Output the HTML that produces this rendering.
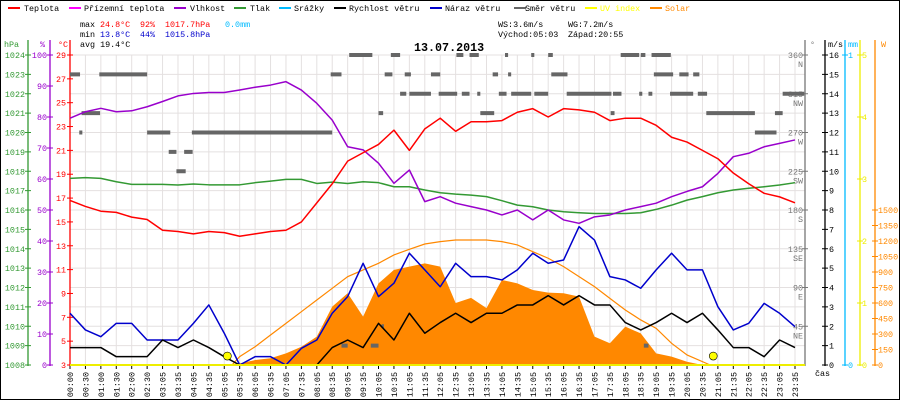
<!DOCTYPE html>
<html><head><meta charset="utf-8">
<style>
html,body{margin:0;padding:0;background:#fff;}
svg{display:block;font-family:"Liberation Mono",monospace;}
</style></head>
<body>
<svg id="chart" width="900" height="400" viewBox="0 0 900 400" xmlns="http://www.w3.org/2000/svg">
<rect x="0.5" y="0.5" width="899" height="399" fill="#fff" stroke="#000"/>
<g id="grid"></g>
<g id="legend" font-size="8.4">
 <g><rect x="8" y="7" width="12" height="2" fill="#f00"/><text x="24" y="11" fill="#000">Teplota</text></g>
 <g><rect x="69" y="7" width="12" height="2" fill="#f0f"/><text x="84" y="11" fill="#000">Přízemní teplota</text></g>
 <g><rect x="174" y="7" width="12" height="2" fill="#90c"/><text x="190" y="11" fill="#000">Vlhkost</text></g>
 <g><rect x="234" y="7" width="12" height="2" fill="#393"/><text x="250" y="11" fill="#000">Tlak</text></g>
 <g><rect x="279" y="7" width="12" height="2" fill="#0bf"/><text x="294" y="11" fill="#000">Srážky</text></g>
 <g><rect x="334" y="7" width="12" height="2" fill="#000"/><text x="349" y="11" fill="#000">Rychlost větru</text></g>
 <g><rect x="430" y="7" width="12" height="2" fill="#00c"/><text x="445" y="11" fill="#000">Náraz větru</text></g>
 <g><rect x="514" y="7" width="12" height="2" fill="#666"/><text x="525" y="11" fill="#000">Směr větru</text></g>
 <g><rect x="585" y="7" width="12" height="2" fill="#ff0"/><text x="600" y="11" fill="#ff0">UV index</text></g>
 <g><rect x="650" y="7" width="12" height="2" fill="#f80"/><text x="665" y="11" fill="#f80">Solar</text></g>
</g>
<g id="stats" font-size="8.4">
 <text x="80" y="27" fill="#000">max</text>
 <text x="100" y="27" fill="#f00">24.8°C</text>
 <text x="140" y="27" fill="#f00">92%</text>
 <text x="165" y="27" fill="#f00">1017.7hPa</text>
 <text x="225" y="27" fill="#0bf">0.0mm</text>
 <text x="80" y="37" fill="#000">min</text>
 <text x="100" y="37" fill="#00c">13.8°C</text>
 <text x="140" y="37" fill="#00c">44%</text>
 <text x="165" y="37" fill="#00c">1015.8hPa</text>
 <text x="80" y="47" fill="#000">avg 19.4°C</text>
 <text x="498" y="27" fill="#000">WS:3.6m/s</text>
 <text x="568" y="27" fill="#000">WG:7.2m/s</text>
 <text x="498" y="37" fill="#000">Východ:05:03</text>
 <text x="568" y="37" fill="#000">Západ:20:55</text>
</g>
<text x="414" y="51" font-size="11.7" font-weight="bold" fill="#000">13.07.2013</text>
<g id="axes"></g>
<g id="series"></g>
</svg>
<script>
const timeLabels = ["00:00","00:30","01:00","01:30","02:00","02:30","03:05","03:35","04:05","04:35","05:05","05:35","06:05","06:35","07:05","07:35","08:05","08:35","09:05","09:35","10:05","10:35","11:05","11:35","12:05","12:35","13:05","13:35","14:05","14:35","15:05","15:35","16:05","16:35","17:05","17:35","18:05","18:35","19:05","19:35","20:05","20:35","21:05","21:35","22:05","22:35","23:05","23:35"];
const temperature = [16.8,16.3,15.9,15.8,15.4,15.2,14.3,14.2,14.0,14.2,14.1,13.8,14.0,14.2,14.3,15.0,16.6,18.2,20.1,20.8,21.5,22.7,21.0,22.8,23.7,22.6,23.4,23.4,23.5,24.2,24.5,23.8,24.5,24.4,24.2,23.5,23.7,23.7,23.1,22.1,21.7,21.0,20.3,19.1,18.2,17.4,17.1,16.6];
const humidity = [79.6,81.7,82.8,81.7,82.0,83.3,85.0,86.8,87.6,87.9,87.9,88.7,89.6,90.3,91.4,88.7,84.4,79.0,70.4,69.4,65.1,58.6,62.9,52.7,54.3,52.2,51.1,50.0,48.4,50.0,46.8,50.0,46.8,45.7,47.8,48.4,50.0,51.1,52.2,54.3,56.0,57.5,61.8,67.2,68.3,70.4,71.5,72.6];
const pressure = [1017.63,1017.67,1017.63,1017.46,1017.32,1017.32,1017.32,1017.29,1017.34,1017.30,1017.30,1017.30,1017.41,1017.49,1017.58,1017.58,1017.37,1017.44,1017.37,1017.46,1017.41,1017.20,1017.20,1017.03,1016.89,1016.82,1016.77,1016.69,1016.48,1016.25,1016.17,1016.00,1015.91,1015.86,1015.82,1015.82,1015.82,1015.86,1016.03,1016.25,1016.51,1016.69,1016.89,1017.03,1017.12,1017.20,1017.29,1017.41];
const windSpeed = [0.9,0.9,0.9,0.43,0.43,0.43,1.29,0.9,1.29,0.9,0.43,0,0,0,0,0,0,0.9,1.29,0.9,2.15,1.29,2.67,1.64,2.19,2.67,2.19,2.67,2.67,3.1,3.1,3.58,3.1,3.58,3.1,3.1,2.19,1.81,2.19,2.67,2.19,2.67,1.81,0.9,0.9,0.43,1.29,0.9];
const windGust = [2.67,1.81,1.46,2.15,2.15,1.29,1.29,1.29,2.15,3.10,1.64,0,0.43,0.43,0,0.86,1.29,2.67,3.53,5.25,3.53,4.22,5.77,4.91,4.04,5.25,4.56,4.56,4.39,4.91,5.77,5.25,5.42,7.14,6.45,4.56,4.39,3.96,4.91,5.77,4.91,4.91,3.01,1.81,2.15,3.18,2.67,1.98];
const solar = [0,0,0,0,0,0,0,0,0,0,0,16,48,65,113,177,274,565,694,468,790,920,952,984,952,600,650,550,823,790,726,700,694,662,274,210,371,306,113,81,32,0,0,0,0,0,0,0];
const sunT = [10.5,11,12,13,14,15,16,17,18,19,20,21,22,23,24,25,26,27,28,29,30,31,32,33,34,35,36,37,38,39,40,41.5];
const sunW = [0,81,177,290,403,516,629,742,855,920,984,1065,1120,1171,1194,1210,1210,1210,1194,1162,1097,1033,952,855,758,645,532,436,355,210,97,0];
const uvT = [10.2,41.7];
const uvV = [0.08,0.08];
const dirStart = [0,1.9,16.9,20.4,21.7,23.4,18.1,20.8,21.4,22.0,0.75,20.0,0.6,5.0,7.9,6.4,7.4,6.9,17.6,19.5,20.2,25.05,25.9,28.2,29.9,31.0,35.7,37.0,37.7,27.4,28.4,31.2,37.85,39.5,40.4,23.9,25.4,26.4,27.8,28.6,30.1,32.2,35.2,36.9,37.5,38.9,40.7,46.2,26.6,35.05,41.25,45.7,44.4,37.2];
const dirEnd = [0.65,5.0,17.6,20.9,22.1,24,19.6,21.4,21.8,23.4,1.95,20.3,0.8,6.5,17.0,6.9,7.95,7.5,18.0,20.0,20.35,25.5,26.5,28.4,30.1,31.3,36.9,37.3,38.95,27.75,28.6,32.25,39.1,40.1,40.8,25.1,25.9,26.6,28.3,29.9,31.0,35.1,35.75,37.1,37.75,40.4,41.3,47.6,27.5,35.3,44.4,46.2,45.8,37.5];
const dirDeg = [337.5,337.5,337.5,337.5,337.5,337.5,360,360,315,315,292.5,292.5,270,270,270,247.5,247.5,225,22.5,22.5,45,360,360,360,360,360,360,360,360,337.5,337.5,337.5,337.5,337.5,337.5,315,315,315,315,315,315,315,315,315,315,315,315,315,292.5,292.5,292.5,292.5,270,22.5];

const NS="http://www.w3.org/2000/svg";
const X0=70, STEP=(795-70)/47, YT=55, YB=365, H=YB-YT;
const xS=i=>X0+i*STEP;
const yTemp=v=>YT+(29-v)*H/26;
const yHum=v=>YT+(100-v)*H/100;
const yPress=v=>YT+(1024-v)*H/16;
const yWind=v=>YT+(16-v)*H/16;
const ySolar=v=>YB-v*H/3000;
const yDir=v=>YB-v*H/360;
const yUV=v=>YB-v*H/5;
function mk(tag,attrs,parent){const e=document.createElementNS(NS,tag);for(const k in attrs)e.setAttribute(k,attrs[k]);parent.appendChild(e);return e;}
const grid=document.getElementById('grid'), axes=document.getElementById('axes'), series=document.getElementById('series');

// grid
for(let i=0;i<timeLabels.length;i++){
  const l=mk('line',{x1:xS(i),x2:xS(i),y1:YT,y2:YB,stroke:'#e4e0e0','stroke-width':1},grid);
  
  
}
for(let p=1008;p<=1024;p++){
  const l=mk('line',{x1:X0,x2:805,y1:yPress(p),y2:yPress(p),stroke:'#e4e0e0','stroke-width':1},grid);
  
  
}

// axes
function vAxis(x,color,name){const l=mk('line',{x1:x,x2:x,y1:YT-15,y2:YB+1,stroke:color,'stroke-width':1.3},axes);}
function lbl(x,y,t,color,anchor,name,size){const e=mk('text',{x:x,y:y,fill:color,'font-size':size||8.4,'text-anchor':anchor||'start'},axes);e.textContent=t;return e;}
function tk(x1,x2,y,color){mk('line',{x1:x1,x2:x2,y1:y,y2:y,stroke:color,'stroke-width':1},axes);}
vAxis(28,'#393','pressure-axis'); vAxis(50,'#90c','humidity-axis'); vAxis(70,'#f00','temperature-axis');
vAxis(805,'#777','direction-axis'); vAxis(825,'#000','wind-axis'); vAxis(845,'#0bf','rain-axis'); vAxis(860,'#ee0','uv-axis'); vAxis(875,'#f80','solar-axis');
lbl(4,47,'hPa','#393','start','pressure-axis-title'); lbl(40,47,'%','#90c','start','humidity-axis-title'); lbl(58,47,'°C','#f00','start','temperature-axis-title');
lbl(810,47,'°','#777','start','direction-axis-title'); lbl(828,47,'m/s','#000','start','wind-axis-title'); lbl(848,47,'mm','#0bf','start','rain-axis-title'); lbl(881,47,'W','#f80','start','solar-axis-title');
for(let p=1008;p<=1024;p++){const y=yPress(p);tk(25,31,y,'#393');lbl(25,y+3,String(p),'#393','end','pressure-tick-label');}
for(let h=0;h<=100;h+=10){const y=yHum(h);tk(47,53,y,'#90c');lbl(47,y+3,String(h),'#90c','end','humidity-tick-label');}
for(let t=3;t<=29;t+=2){const y=yTemp(t);tk(67,73,y,'#f00');lbl(66,y+3,String(t),'#f00','end','temperature-tick-label');}
const compass=['','NE','E','SE','S','SW','W','NW','N'];
for(let k=1;k<=8;k++){const d=k*45,y=yDir(d);tk(802,808,y,'#777');lbl(803,y+3,String(d),'#777','end','direction-tick-label');lbl(803,y+12,compass[k],'#777','end','direction-compass-label');}
for(let v=0;v<=16;v++){const y=yWind(v);tk(822,828,y,'#000');lbl(829,y+3,String(v),'#000','start','wind-tick-label');}
[0,1].forEach(v=>{const y=YB-v*H;tk(842,848,y,'#0bf');lbl(848,y+3,String(v),'#0bf','start','rain-tick-label');});
for(let v=0;v<=5;v++){const y=yUV(v);tk(857,863,y,'#ee0');lbl(862,y+3,String(v),'#ee0','start','uv-tick-label');}
for(let v=0;v<=1500;v+=150){const y=ySolar(v);tk(872,878,y,'#f80');lbl(878,y+3,String(v),'#f80','start','solar-tick-label');}
lbl(815,376,'čas','#000','start','x-axis-title');
for(let i=0;i<timeLabels.length;i++){
  const x=xS(i);
  mk('line',{x1:x,x2:x,y1:YB+1,y2:YB+4,stroke:'#000'},axes);
  const e=mk('text',{x:0,y:0,fill:'#000','font-size':8.4,'text-anchor':'end',transform:`translate(${x+3},${YB+7}) rotate(-90)`},axes);
  e.textContent=timeLabels[i];
  
  
}

// solar area
let sp=`M${xS(0)},${YB}`;solar.forEach((v,i)=>sp+=` L${xS(i)},${ySolar(v)}`);sp+=` L${xS(solar.length-1)},${YB} Z`;
const sa=mk('path',{d:sp,fill:'#f80',stroke:'none'},series);


// direction bars
for(let k=0;k<dirDeg.length;k++){
  const r=mk('rect',{x:xS(dirStart[k]),y:yDir(dirDeg[k])-2,width:Math.max(2,xS(dirEnd[k])-xS(dirStart[k])),height:4,fill:'#666'},series);
  
  
}
function line(vals,yf,color,name,w){
  let d='';vals.forEach((v,i)=>d+=(i?' L':'M')+xS(i)+','+yf(v));
  const p=mk('path',{d:d,fill:'none',stroke:color,'stroke-width':w||1.5,'stroke-linejoin':'round'},series);
  
  
}
// sun curve
let sd='';sunT.forEach((t,i)=>sd+=(i?' L':'M')+xS(t)+','+ySolar(sunW[i]));
const sc=mk('path',{d:sd,fill:'none',stroke:'#f80','stroke-width':1.2},series);


line(pressure,yPress,'#393','pressure-line');
line(humidity,yHum,'#90c','humidity-line');
line(temperature,yTemp,'#f00','temperature-line');
line(windGust,yWind,'#00c','wind-gust-line');
line(windSpeed,yWind,'#000','wind-speed-line');
const uvl=mk('line',{x1:X0,x2:805,y1:YB,y2:YB,stroke:'#ee0','stroke-width':2},series);


uvT.forEach((t,i)=>{
  const c=mk('circle',{cx:xS(t),cy:yUV(uvV[i])-4,r:4,fill:'#ff0',stroke:'#000','stroke-width':0.6},series);
  
  
});
</script>
</body></html>
